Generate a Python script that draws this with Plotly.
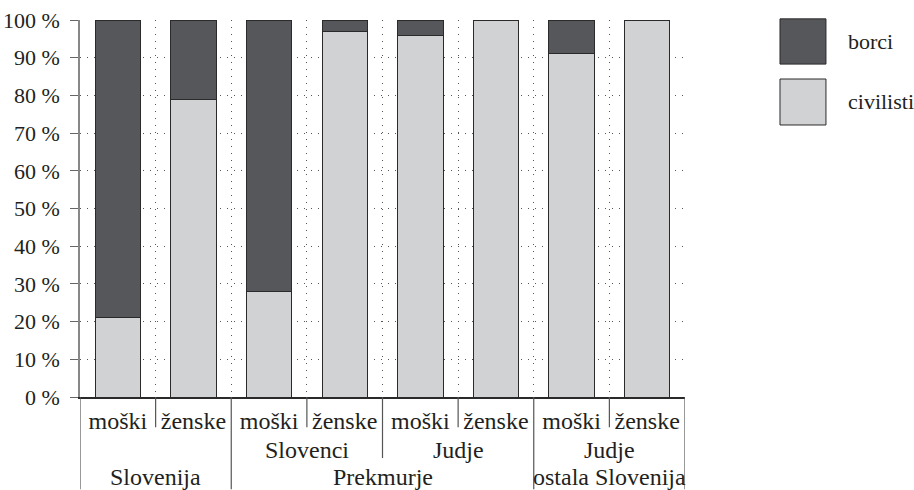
import plotly.graph_objects as go

# ---- data ----
sex_labels = ["moški", "ženske", "moški", "ženske", "moški", "ženske", "moški", "ženske"]
civilisti = [21, 79, 28, 97, 96, 100, 91, 100]
borci = [79, 21, 72, 3, 4, 0, 9, 0]
series_names = ["borci", "civilisti"]
group2 = [("", 0, 2), ("Slovenci", 2, 4), ("Judje", 4, 6), ("Judje", 6, 8)]
group3 = [("Slovenija", 0, 2), ("Prekmurje", 2, 6), ("ostala Slovenija", 6, 8)]
y_ticks = [0, 10, 20, 30, 40, 50, 60, 70, 80, 90, 100]
y_tick_labels = [f"{v} %" for v in y_ticks]

DARK = "#56575a"
LIGHT = "#d1d2d4"
EDGE = "#2a2a2a"
TXT = "#231f20"
FONT = "Liberation Serif"
FS = 22
FSX = 24

x = [i + 0.5 for i in range(len(sex_labels))]

fig = go.Figure()
fig.add_bar(x=x, y=civilisti, name=series_names[1], width=0.6,
            marker=dict(color=LIGHT, line=dict(color=EDGE, width=1)))
fig.add_bar(x=x, y=borci, name=series_names[0], width=0.6,
            marker=dict(color=DARK, line=dict(color=EDGE, width=1)))

fig.update_layout(
    barmode="stack",
    width=914, height=490,
    margin=dict(l=80, r=229, t=20, b=93),
    plot_bgcolor="white", paper_bgcolor="white",
    showlegend=False,
    font=dict(family=FONT, size=FS, color=TXT),
)

fig.update_xaxes(
    range=[0, 8], tickvals=x, ticktext=sex_labels, automargin=False,
    showgrid=False, showline=True, linecolor=EDGE, linewidth=1.5,
    ticks="", zeroline=False, ticklabelstandoff=1, tickfont=dict(size=FSX),
    minor=dict(tickvals=list(range(1, 9)), showgrid=True, gridcolor="#555",
               gridwidth=1, griddash="1px,6px", ticks=""),
)
fig.update_yaxes(
    range=[0, 100], tickvals=y_ticks, ticktext=y_tick_labels, automargin=False,
    showgrid=True, gridcolor="#555", gridwidth=1, griddash="1px,6px",
    showline=True, linecolor="#888", linewidth=1.5, ticklabelstandoff=6,
    ticklabeloverflow="allow", layer="above traces",
    ticks="outside", ticklen=8, tickcolor="#666", zeroline=False,
)

# divider lines below the axis
SHORT, MID, FULL = -0.08, -0.162, -0.245
div = {0: FULL, 1: SHORT, 2: FULL, 3: SHORT, 4: MID, 5: SHORT, 6: FULL, 7: SHORT, 8: FULL}
for xv, yb in div.items():
    fig.add_shape(type="line", xref="x", yref="paper", x0=xv, x1=xv, y0=0, y1=yb,
                  line=dict(color="#555", width=1.2))

for name, a, b in group2:
    if name:
        fig.add_annotation(x=(a + b) / 2, y=-0.141, xref="x", yref="paper", text=name,
                           showarrow=False, yanchor="middle", font=dict(size=FSX))
for name, a, b in group3:
    fig.add_annotation(x=(a + b) / 2, y=-0.213, xref="x", yref="paper", text=name,
                       showarrow=False, yanchor="middle", font=dict(size=FSX))

# legend
leg = [(series_names[0], DARK, 1.003, 0.883), (series_names[1], LIGHT, 0.8435, 0.7215)]
for name, col, y1, y0 in leg:
    fig.add_shape(type="rect", xref="paper", yref="paper", x0=1.157, x1=1.233, y0=y0, y1=y1,
                  fillcolor=col, line=dict(color=EDGE, width=1))
    fig.add_annotation(x=1.266, y=(y0 + y1) / 2, xref="paper", yref="paper", text=name,
                       showarrow=False, xanchor="left", yanchor="middle", font=dict(size=FS))

fig.write_html("out.html", config={"displayModeBar": False},
               post_script="document.body.style.margin='0';document.body.style.overflow='hidden';")
